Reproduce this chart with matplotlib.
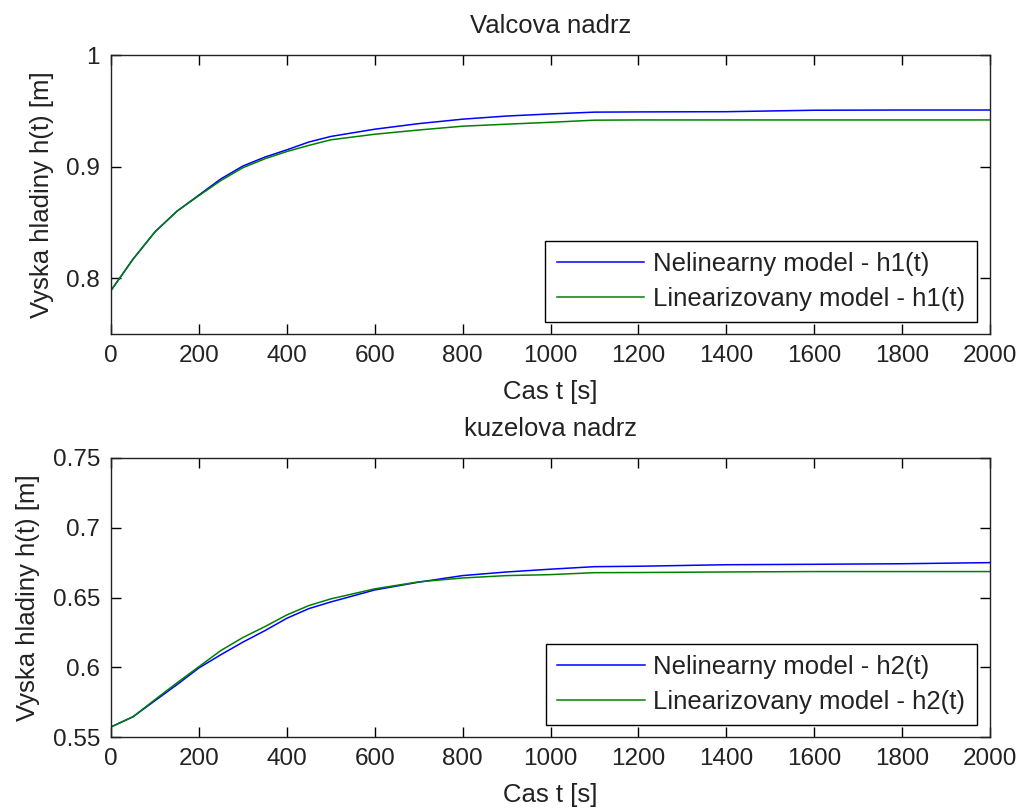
import matplotlib
matplotlib.use("Agg")
import matplotlib.pyplot as plt

# ---- data ----
t = [0, 50, 100, 150, 200, 250, 300, 350, 400, 450, 500, 600, 700, 800, 900,
     1000, 1100, 1200, 1400, 1600, 1800, 2000]

h1_nonlin = [0.789, 0.817, 0.8415, 0.860, 0.8745, 0.889, 0.9005, 0.9085, 0.915,
             0.922, 0.927, 0.9335, 0.9385, 0.9425, 0.9453, 0.9472, 0.9488, 0.949,
             0.9492, 0.9505, 0.9507, 0.9507]
h1_lin = [0.789, 0.817, 0.8415, 0.860, 0.874, 0.8875, 0.899, 0.907, 0.9135,
          0.919, 0.924, 0.929, 0.9328, 0.9362, 0.938, 0.9397, 0.9416, 0.9418,
          0.9418, 0.9418, 0.9418, 0.9418]

h2_nonlin = [0.5572, 0.5645, 0.5760, 0.5875, 0.5995, 0.6090, 0.6180, 0.6262,
             0.6351, 0.6420, 0.6468, 0.6554, 0.6610, 0.6657, 0.6683, 0.6703,
             0.6721, 0.6724, 0.6735, 0.6738, 0.6742, 0.6750]
h2_lin = [0.5572, 0.5645, 0.5768, 0.5888, 0.6004, 0.6120, 0.6213, 0.6291,
          0.6375, 0.6442, 0.6490, 0.6562, 0.6612, 0.6640, 0.6657, 0.6664,
          0.6678, 0.6679, 0.6683, 0.6686, 0.6686, 0.6686]

titles = ["Valcova nadrz", "kuzelova nadrz"]
xlabel = "Cas t [s]"
ylabel = "Vyska hladiny h(t) [m]"
leg1 = ["Nelinearny model - h1(t)", "Linearizovany model - h1(t)"]
leg2 = ["Nelinearny model - h2(t)", "Linearizovany model - h2(t)"]
xticks = [0, 200, 400, 600, 800, 1000, 1200, 1400, 1600, 1800, 2000]
yticks1 = [0.8, 0.9, 1.0]
yticks1_lbl = ["0.8", "0.9", "1"]
yticks2 = [0.55, 0.6, 0.65, 0.7, 0.75]
yticks2_lbl = ["0.55", "0.6", "0.65", "0.7", "0.75"]

plt.rcParams["font.family"] = ["Liberation Sans", "DejaVu Sans"]
FS = 18.5
TFS = 17.5
TXT = "#222222"

fig = plt.figure(figsize=(10.21, 8.08), dpi=100)
ax1 = fig.add_axes([111 / 1021, 1 - 334 / 808, 879 / 1021, 279 / 808])
ax2 = fig.add_axes([111 / 1021, 1 - 737 / 808, 879 / 1021, 279 / 808])

BLUE = (0, 0, 1)
GREEN = (0, 0.5, 0)

def style(ax, ylim, yt, ytl, title, labels, series):
    l1, = ax.plot(t, series[0], color=BLUE, lw=1.1)
    l2, = ax.plot(t, series[1], color=GREEN, lw=1.1)
    ax.set_xlim(0, 2000)
    ax.set_ylim(*ylim)
    ax.set_xticks(xticks)
    ax.set_xticklabels([str(x) for x in xticks], fontsize=TFS)
    ax.set_yticks(yt)
    ax.set_yticklabels(ytl, fontsize=TFS)
    ax.tick_params(direction="in", length=7, width=1, top=True, right=True,
                   pad=8, colors="black", labelcolor=TXT)
    for sp in ax.spines.values():
        sp.set_linewidth(1.0)
        sp.set_color(TXT)
    ax.set_title(title, fontsize=FS, pad=16, color=TXT)
    ax.set_xlabel(xlabel, fontsize=FS, labelpad=9, color=TXT)
    ax.set_ylabel(ylabel, fontsize=FS, labelpad=9, color=TXT)
    leg = ax.legend([l1, l2], labels, loc="lower right",
                    bbox_to_anchor=(0.985, 0.042), fontsize=FS,
                    fancybox=False, framealpha=1, edgecolor="black",
                    handlelength=3.4, handletextpad=0.34, borderpad=0.45,
                    labelspacing=0.4, borderaxespad=0)
    leg.get_frame().set_linewidth(1.0)
    for txt in leg.get_texts():
        txt.set_color(TXT)

style(ax1, (0.75, 1.0), yticks1, yticks1_lbl, titles[0], leg1, (h1_nonlin, h1_lin))
style(ax2, (0.55, 0.75), yticks2, yticks2_lbl, titles[1], leg2, (h2_nonlin, h2_lin))

fig.savefig("out.png", dpi=100)
